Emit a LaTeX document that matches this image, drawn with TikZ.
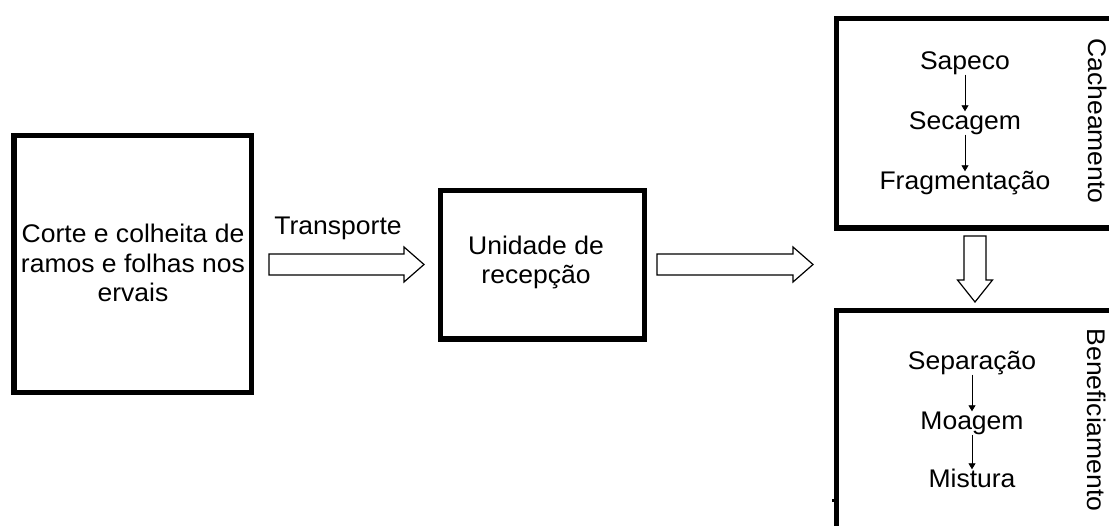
\documentclass[tikz,border=0pt]{standalone}
\usepackage{fontspec}
\setmainfont{Liberation Sans}[FakeStretch=1.04]
\usetikzlibrary{calc,arrows.meta}
\tikzset{
  boxline/.style={draw=black, line width=5.5pt, minimum width=#1, inner sep=0pt},
  lbl/.style={font=\fontsize{25.5}{29.5}\selectfont, inner sep=0pt, align=center, text height=18pt, text depth=5pt},
  blk/.style={draw=black, line width=1.2pt, fill=white, line join=miter},
  small/.style={-{Triangle[length=6pt,width=7pt]}, line width=0.9pt}
}
\newcommand\blockarrowh[2]{%
  \draw[blk] ($(#1)+(0,-10.5)$) -- ($(#2)+(-20,-10.5)$) -- ($(#2)+(-20,-17.5)$) -- (#2)
    -- ($(#2)+(-20,17.5)$) -- ($(#2)+(-20,10.5)$) -- ($(#1)+(0,10.5)$) -- cycle;}
\newcommand\blockarrowv[2]{%
  \draw[blk] ($(#1)+(-11,0)$) -- ($(#2)+(-11,-22)$) -- ($(#2)+(-17.5,-22)$) -- (#2)
    -- ($(#2)+(17.5,-22)$) -- ($(#2)+(11,-22)$) -- ($(#1)+(11,0)$) -- cycle;}
\begin{document}
\begin{tikzpicture}[x=1pt,y=-1pt]
\useasboundingbox[fill=white] (0,0) rectangle (1109,526);
% boxes
\node[boxline=237.5pt, minimum height=257pt] (b1) at (132.75,264) {};
\node[boxline=204pt, minimum height=148.5pt] (b2) at (542.5,264.75) {};
\node[boxline=293.5pt, minimum height=209.5pt] (b3) at (983.25,123.25) {};
\node[boxline=293.5pt, minimum height=249.5pt] (b4) at (983.25,435.25) {};
% texts
\node[lbl, text height=, text depth=] (t1) at (133,263) {Corte e colheita de\\ramos e folhas nos\\ervais};
\node[lbl, text height=, text depth=] (t2) at (536,262.5) {Unidade de\\recepção};
\node[lbl] (tr) at (338,228) {Transporte};
\node[lbl] (s1) at (965,63) {Sapeco};
\node[lbl] (s2) at (965,123) {Secagem};
\node[lbl] (s3) at (965,183) {Fragmentação};
\node[lbl] (m1) at (972,363) {Separação};
\node[lbl] (m2) at (972,423) {Moagem};
\node[lbl] (m3) at (972,481) {Mistura};
\node[lbl, rotate=-90, text height=, text depth=] (c1) at (1098,121) {Cacheamento};
\node[lbl, rotate=-90, text height=, text depth=] (c2) at (1097,420) {Beneficiamento};
% small arrows
\draw[small] (s1) -- (s2);
\draw[small] (s2) -- (s3);
\draw[small] (m1) -- (m2);
\draw[small] (m2) -- (m3);
% block arrows
\coordinate (a1s) at (269,264.5);
\coordinate (a1e) at (424,264.5);
\coordinate (a2s) at (657,264.5);
\coordinate (a2e) at (813,264.5);
\coordinate (a3s) at (975,236);
\coordinate (a3e) at (975,302);
\blockarrowh{a1s}{a1e}
\blockarrowh{a2s}{a2e}
\blockarrowv{a3s}{a3e}
% small mark
\fill[black] (832,499) rectangle (835,502);
\end{tikzpicture}
\end{document}
